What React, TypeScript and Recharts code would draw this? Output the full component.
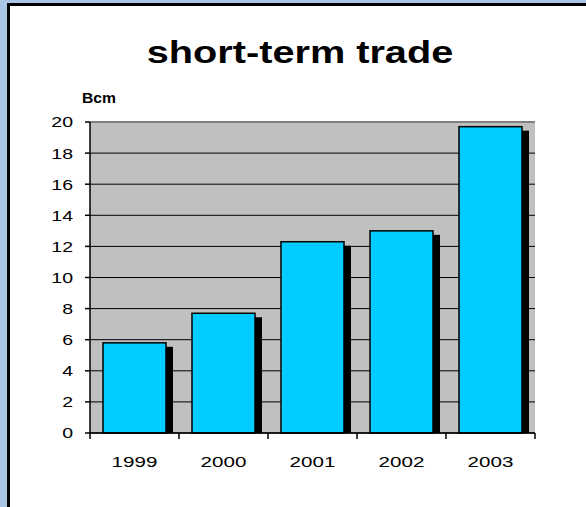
import { BarChart, Bar, XAxis, YAxis, CartesianGrid, ReferenceLine } from 'recharts'

// values (Bcm)
const years = ['1999', '2000', '2001', '2002', '2003']
const volumes = [5.8, 7.7, 12.3, 13.0, 19.7]
const yTicks = [0, 2, 4, 6, 8, 10, 12, 14, 16, 18, 20]

const data = years.map((year, i) => ({ year, value: volumes[i] }))

const FONT = '"Liberation Sans", Arial, sans-serif'
const X_LABEL_GAP = 23

// bar with the black drop shadow on its right side
const ShadowBar = (props: any) => {
  const { x, y, width, height } = props
  if (height <= 0) return null
  return (
    <g>
      <rect x={x + width} y={y + 4} width={7} height={height - 4} fill="#000" />
      <rect x={x} y={y} width={width} height={height} fill="#00ccff" stroke="#000" strokeWidth={1.5} />
    </g>
  )
}

const YTick = (props: any) => {
  const { x, y, payload } = props
  return (
    <text
      transform={`translate(${x},${y}) scale(1.3,1)`}
      textAnchor="end"
      dy="0.36em"
      fontFamily={FONT}
      fontSize={15}
      fill="#000"
    >
      {payload.value}
    </text>
  )
}

// category label in the middle, tick marks on the band edges
const XTick = (props: any) => {
  const { x, y, payload, index, visibleTicksCount } = props
  const half = payload.offset || 0
  const axisY = y - X_LABEL_GAP
  return (
    <g>
      <line x1={x - half} x2={x - half} y1={axisY} y2={axisY + 6} stroke="#000" strokeWidth={1.5} />
      {index === visibleTicksCount - 1 && (
        <line x1={x + half} x2={x + half} y1={axisY} y2={axisY + 6} stroke="#000" strokeWidth={1.5} />
      )}
      <text
        transform={`translate(${x},${y}) scale(1.33,1)`}
        textAnchor="middle"
        dy="0.71em"
        fontFamily={FONT}
        fontSize={15.5}
        fill="#000"
      >
        {payload.value}
      </text>
    </g>
  )
}

export default function App() {
  return (
    <div style={{ position: 'absolute', left: 0, top: 0, width: 586, height: 507, background: '#a8c5e4', overflow: 'hidden' }}>
      <div
        style={{
          position: 'absolute',
          left: 7,
          top: 3,
          right: 0,
          bottom: 0,
          background: '#fff',
          borderLeft: '3px solid #000',
          borderTop: '3px solid #000',
        }}
      />
      {/* title */}
      <div
        style={{
          position: 'absolute',
          left: 0,
          width: 600,
          top: 33,
          textAlign: 'center',
          fontFamily: FONT,
          fontWeight: 'bold',
          fontSize: 32,
          lineHeight: '38px',
          transform: 'scale(1.24,1)',
          transformOrigin: '300px 0',
        }}
      >
        short-term trade
      </div>
      <div
        style={{
          position: 'absolute',
          left: 82,
          top: 90,
          fontFamily: FONT,
          fontWeight: 'bold',
          fontSize: 14,
          lineHeight: '16px',
          transform: 'scale(1.12,1)',
          transformOrigin: '0 0',
        }}
      >
        Bcm
      </div>
      <div style={{ position: 'absolute', left: 0, top: 0 }}>
        <BarChart
          width={586}
          height={507}
          data={data}
          margin={{ top: 122, right: 51, left: 50, bottom: 34 }}
          barSize={63}
        >
          <CartesianGrid vertical={false} stroke="#000" strokeWidth={1} fill="#c0c0c0" fillOpacity={1} />
          <ReferenceLine y={20} stroke="#808080" strokeWidth={2} />
          <XAxis
            dataKey="year"
            tick={<XTick />}
            tickLine={false}
            tickSize={0}
            tickMargin={X_LABEL_GAP}
            axisLine={{ stroke: '#000', strokeWidth: 1.5 }}
            height={40}
          />
          <YAxis
            domain={[0, 20]}
            ticks={yTicks}
            interval={0}
            width={40}
            tick={<YTick />}
            tickSize={5}
            tickMargin={12}
            tickLine={{ stroke: '#000', strokeWidth: 1.5 }}
            axisLine={{ stroke: '#000', strokeWidth: 1.5 }}
          />
          <YAxis
            yAxisId="edge"
            orientation="right"
            domain={[0, 20]}
            width={0}
            tick={false}
            tickLine={false}
            axisLine={{ stroke: '#808080', strokeWidth: 2 }}
          />
          <Bar dataKey="value" shape={ShadowBar} isAnimationActive={false} />
        </BarChart>
      </div>
    </div>
  )
}
